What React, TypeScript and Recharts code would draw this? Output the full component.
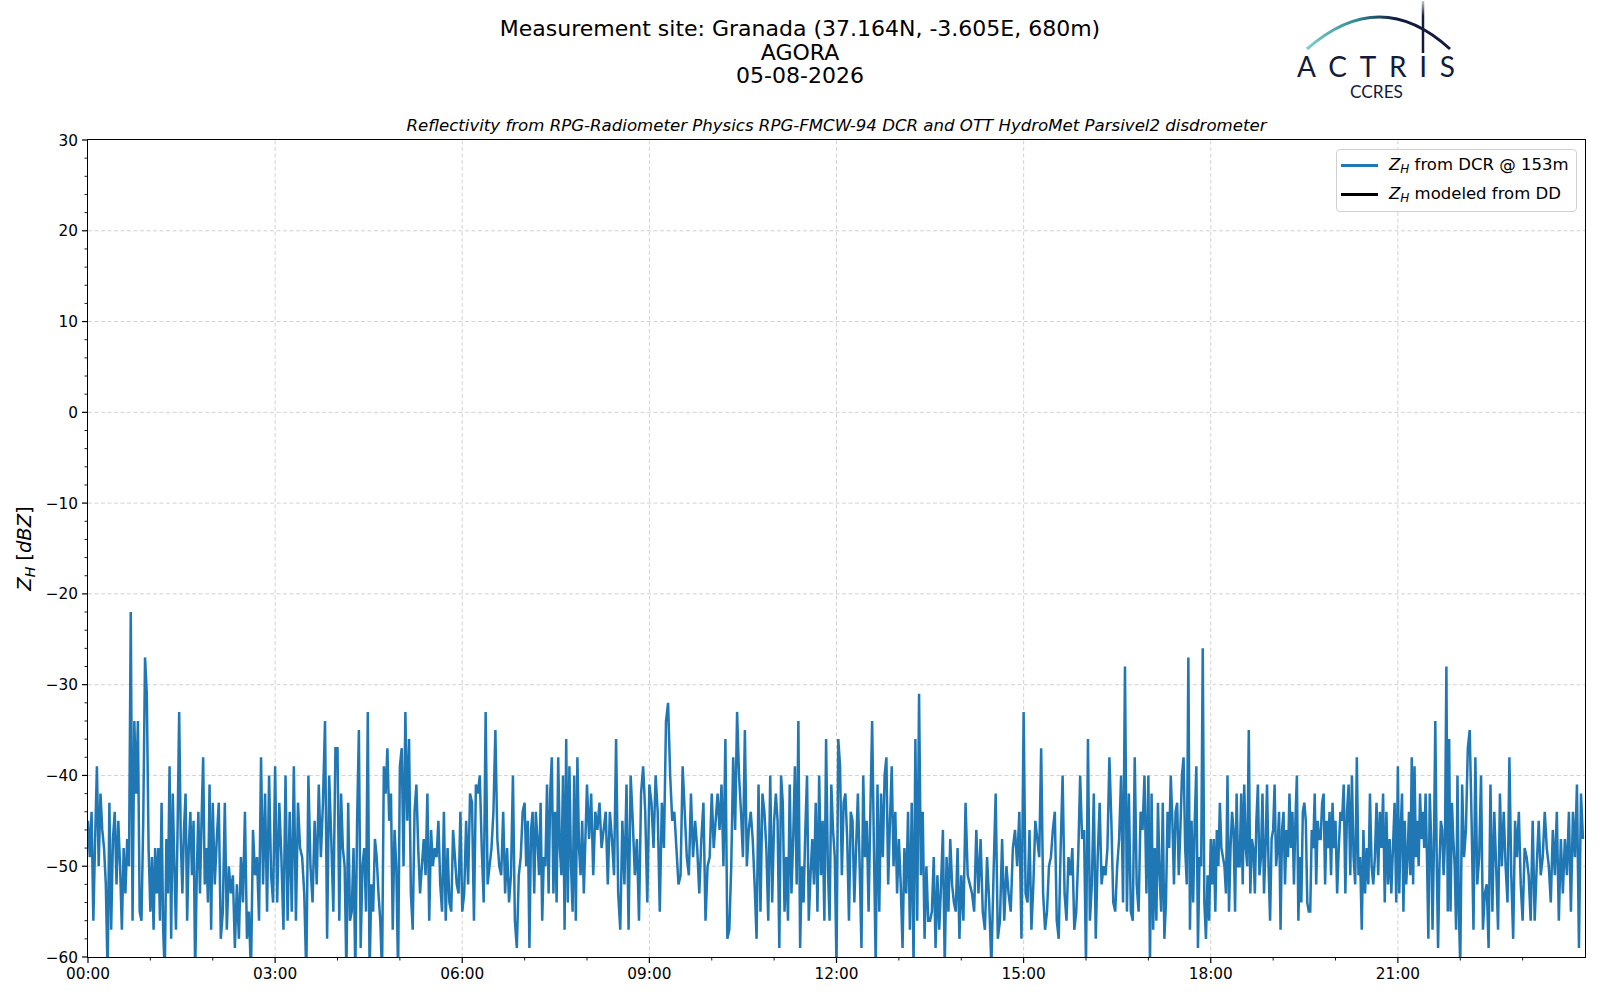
import React from "react";
import { Legend, Line, LineChart, ReferenceLine, XAxis, YAxis } from "recharts";

// Z_H from the DCR at 153 m, one list per hour of the day (dBZ)
const h00 = [-45, -49, -44, -56, -47, -39, -50, -42, -46, -48, -52, -62, -43, -57, -47, -44, -52, -45, -50, -57, -48, -53, -47, -50, -22, -56, -34, -42, -34, -55, -56, -45, -27, -31, -48];
const h01 = [-55, -49, -57, -48, -53, -48, -56, -43, -57, -62, -47, -53, -39, -58, -42, -50, -57, -46, -33, -47, -53, -46, -42, -56, -48, -44, -51, -45, -62, -51, -44, -53, -45, -38, -52, -48, -54, -41, -57];
const h02 = [-43, -52, -47, -43, -58, -55, -43, -57, -50, -53, -51, -59, -52, -58, -49, -54, -44, -58, -55, -62, -46, -51, -49, -56, -38, -52, -42, -55, -40, -51, -54];
const h03 = [-39, -54, -43, -49, -57, -40, -56, -44, -55, -39, -56, -43, -48, -49, -53, -62, -40, -50, -54, -45, -52, -41, -49, -43, -34, -58, -40, -47, -55, -37];
const h04 = [-37, -56, -42, -48, -50, -62, -43, -56, -55, -48, -62, -45, -35, -59, -50, -48, -55, -33, -62, -52, -55, -47, -49, -53, -56, -62, -39, -42, -37, -45, -42, -57, -46, -50, -62];
const h05 = [-39, -37, -50, -33, -45, -36, -53, -57, -44, -41, -48, -53, -50, -47, -51, -42, -56, -46, -50, -48, -49, -45, -52, -55, -44, -56, -48, -54, -55, -46, -49, -52, -53, -44];
const h06 = [-55, -53, -45, -52, -42, -43, -56, -41, -42, -40, -48, -54, -33, -52, -50, -48, -44, -35, -47, -50, -51, -44, -53, -48, -54, -51, -40, -56, -59, -51, -49, -44];
const h07 = [-43, -50, -45, -59, -46, -44, -53, -44, -47, -51, -43, -56, -49, -50, -41, -53, -42, -38, -53, -44, -54, -38, -48, -51, -40, -57, -36, -54, -39, -50, -55, -40, -56, -38, -48, -51, -45, -53, -47];
const h08 = [-41, -47, -42, -51, -44, -46, -43, -48, -46, -44, -52, -44, -47, -51, -36, -53, -57, -45, -52, -41, -57, -40, -45, -51, -47, -56, -42, -39, -44, -54];
const h09 = [-41, -43, -48, -40, -44, -55, -43, -48, -34, -32, -40, -45, -44, -48, -52, -51, -39, -44, -49, -51, -42, -49, -45, -48, -53, -47, -43, -56, -50, -49];
const h10 = [-42, -48, -45, -42, -46, -41, -50, -36, -58, -57, -50, -38, -46, -33, -40, -44, -49, -35, -50, -46, -44, -47, -52, -58, -41, -55, -42, -44, -48, -56, -40, -54];
const h11 = [-45, -42, -45, -59, -40, -43, -55, -49, -56, -41, -53, -47, -39, -52, -34, -59, -50, -54, -46, -40, -56, -51, -47, -52, -43, -55, -40, -51, -45, -56, -36, -50, -56, -41, -46, -49];
const h12 = [-61, -36, -39, -51, -43, -42, -47, -56, -44, -45, -54, -48, -42, -50, -59, -40, -49, -45, -55, -44, -34, -48, -61, -41, -55, -42, -49, -40, -38, -52, -45, -39, -50, -44, -53];
const h13 = [-47, -52, -59, -48, -53, -44, -57, -43, -61, -36, -56, -31, -51, -44, -58, -50, -56, -56, -55, -49, -59, -51, -57, -52, -46, -61, -49, -55, -47, -52, -54, -55, -48, -58];
const h14 = [-51, -56, -43, -51, -52, -53, -55, -46, -53, -47, -55, -57, -49, -54, -61, -51, -42, -58, -56, -47, -56, -50, -53, -55, -48, -46, -50, -44, -58];
const h15 = [-33, -53, -54, -46, -57, -52, -45, -47, -49, -37, -53, -57, -55, -50, -49, -46, -44, -56, -58, -48, -40, -53, -56, -49, -51, -48, -57, -55, -49, -40, -47, -46];
const h16 = [-61, -36, -56, -52, -42, -58, -49, -43, -52, -50, -51, -48, -38, -45, -54, -55, -50, -47, -40, -54, -28, -55, -42, -55, -56, -38, -52, -55, -44, -46, -40, -53];
const h17 = [-40, -61, -42, -57, -48, -56, -43, -51, -55, -43, -58, -54, -44, -48, -40, -45, -52, -44, -43, -51, -46, -40, -38, -48, -52, -27, -57, -45, -54, -45, -39, -59, -49, -50, -26, -54, -58, -51, -56];
const h18 = [-47, -52, -47, -55, -46, -50, -43, -48, -49, -50, -53, -40, -55, -48, -44, -46, -55, -42, -50, -50, -42, -52, -41, -48, -50, -35, -53, -47, -48, -53, -45, -41, -51, -49, -42, -53, -48, -41, -50, -56, -47];
const h19 = [-46, -41, -50, -48, -44, -57, -46, -44, -52, -46, -49, -42, -48, -44, -52, -45, -40, -56, -49, -54, -44, -43, -45, -54, -55, -55, -46, -48, -42, -52, -45, -47, -47, -43, -42, -52, -45, -48, -44, -51, -43, -48];
const h20 = [-45, -53, -48, -44, -45, -41, -53, -44, -41, -51, -40, -49, -52, -38, -51, -49, -57, -46, -53, -48, -52, -42, -50, -52, -49, -43, -51, -44, -48, -42, -54, -44, -52, -47, -53, -48, -43, -54];
const h21 = [-39, -53, -46, -42, -55, -45, -52, -49, -44, -51, -38, -52, -39, -49, -45, -50, -42, -47, -44, -48, -42, -49, -58, -42, -47, -57, -48, -34, -49, -59, -50, -45, -46, -51, -47, -28, -55, -36, -55, -43, -47, -50, -57, -40, -55];
const h22 = [-61, -41, -49, -46, -37, -35, -45, -57, -38, -52, -49, -40, -57, -53, -52, -59, -41, -55, -44, -50, -57, -42, -50, -44, -50, -54, -38, -51, -58, -45, -49, -44, -52];
const h23 = [-56, -48, -49, -51, -56, -45, -56, -50, -45, -51, -49, -44, -48, -50, -54, -46, -51, -44, -56, -47, -53, -47, -51, -44, -55, -44, -49, -41, -59, -42, -47];

const hours = [h00, h01, h02, h03, h04, h05, h06, h07, h08, h09, h10, h11, h12, h13, h14, h15, h16, h17, h18, h19, h20, h21, h22, h23];

const yMajor = [-60, -50, -40, -30, -20, -10, 0, 10, 20, 30];
const xMajor = [0, 3, 6, 9, 12, 15, 18, 21];

const PLOT = { left: 88, top: 140, right: 1585, bottom: 957 };
const FONT = "'DejaVu Sans', sans-serif";
const BLUE = "#1f77b4";

// samples spread evenly inside each hour; the DD series has no data that day
const data = hours.flatMap((vals, h) =>
  vals.map((v, i) => ({ t: h + i / vals.length, zh: v, dd: null as number | null })),
);

const yTicks = yMajor.flatMap((v) => (v < 30 ? [v, v + 2, v + 4, v + 6, v + 8] : [v]));
const xTicks = Array.from({ length: 24 }, (_, i) => i);

const fmtNum = (v: number) => (v < 0 ? `\u2212${Math.abs(v)}` : `${v}`);
const fmtHour = (h: number) => `${String(h).padStart(2, "0")}:00`;

function YTick({ y, payload }: any) {
  const v = payload.value;
  const major = v % 10 === 0;
  return (
    <g>
      <line x1={PLOT.left} x2={PLOT.left - (major ? 6 : 3.5)} y1={y} y2={y} stroke="#000" strokeWidth={major ? 1.2 : 0.9} />
      {major ? (
        <text x={PLOT.left - 10} y={y} dy="0.36em" textAnchor="end" fontSize={15.3} fontFamily={FONT} fill="#000">
          {fmtNum(v)}
        </text>
      ) : null}
    </g>
  );
}

function XTick({ x, payload }: any) {
  const v = payload.value;
  const major = v % 3 === 0;
  return (
    <g>
      <line x1={x} x2={x} y1={PLOT.bottom} y2={PLOT.bottom + (major ? 6 : 3.5)} stroke="#000" strokeWidth={major ? 1.2 : 0.9} />
      {major ? (
        <text x={x} y={PLOT.bottom + 10} dy="0.76em" textAnchor="middle" fontSize={15.3} fontFamily={FONT} fill="#000">
          {fmtHour(v)}
        </text>
      ) : null}
    </g>
  );
}

function YLabel() {
  const cy = (PLOT.top + PLOT.bottom) / 2;
  return (
    <text x={24} y={cy} transform={`rotate(-90 24 ${cy})`} textAnchor="middle" dy="0.35em" fontSize={19.5} fontFamily={FONT} fill="#000">
      <tspan fontStyle="italic">Z</tspan>
      <tspan fontStyle="italic" fontSize={14} dy={4}>H</tspan>
      <tspan dy={-4}> [</tspan>
      <tspan fontStyle="italic">dBZ</tspan>
      <tspan>]</tspan>
    </text>
  );
}

function ZH() {
  return (
    <>
      <i>Z</i>
      <sub style={{ fontSize: 12, fontStyle: "italic", verticalAlign: "-3px" }}>H</sub>
    </>
  );
}

const legendOrder = ["zh", "dd"];

function LegendBox({ payload }: any) {
  const labels: Record<string, React.ReactNode> = {
    zh: <><ZH /> from DCR @ 153m</>,
    dd: <><ZH /> modeled from DD</>,
  };
  const items = [...(payload ?? [])].sort(
    (a: any, b: any) => legendOrder.indexOf(a.dataKey) - legendOrder.indexOf(b.dataKey),
  );
  return (
    <div
      style={{
        width: 241,
        height: 63,
        boxSizing: "border-box",
        border: "1px solid #d0d0d0",
        borderRadius: 4,
        background: "rgba(255,255,255,0.8)",
        fontFamily: FONT,
        fontSize: 16.5,
        color: "#000",
        padding: "1px 0 0 4px",
      }}
    >
      {items.map((p: any) => (
        <div key={p.dataKey} style={{ display: "flex", alignItems: "center", height: 29 }}>
          <span style={{ display: "inline-block", width: 37, height: 2.5, background: p.color, marginRight: 11 }} />
          <span style={{ whiteSpace: "nowrap" }}>{labels[p.dataKey]}</span>
        </div>
      ))}
    </div>
  );
}

function Logo() {
  return (
    <svg width={200} height={110} viewBox="1290 0 200 110" style={{ position: "absolute", left: 1290, top: 0 }}>
      <defs>
        <linearGradient id="arcGrad" x1="1307" x2="1450" y1="0" y2="0" gradientUnits="userSpaceOnUse">
          <stop offset="0" stopColor="#7fd0c8" />
          <stop offset="0.35" stopColor="#2f8a93" />
          <stop offset="0.62" stopColor="#141a3c" />
          <stop offset="1" stopColor="#141a3c" />
        </linearGradient>
        <linearGradient id="mastGrad" x1="0" x2="0" y1="0" y2="54" gradientUnits="userSpaceOnUse">
          <stop offset="0" stopColor="#141a3c" stopOpacity="0.2" />
          <stop offset="0.3" stopColor="#141a3c" />
        </linearGradient>
      </defs>
      <path d="M 1307 49 Q 1380 -15 1450 49" fill="none" stroke="url(#arcGrad)" strokeWidth={3} />
      <line x1={1423} x2={1423} y1={1} y2={53} stroke="url(#mastGrad)" strokeWidth={2.5} />
      <text x={1297} y={77} textLength={158} lengthAdjust="spacing" fontSize={28} fontFamily="Lato, 'Open Sans', sans-serif" fill="#141a3c">
        ACTRIS
      </text>
      <text x={1350} y={98} textLength={53} lengthAdjust="spacingAndGlyphs" fontSize={17} fontFamily="Lato, 'Open Sans', sans-serif" fill="#141a3c">
        CCRES
      </text>
    </svg>
  );
}

export default function App() {
  const plotW = PLOT.right - PLOT.left;
  const plotH = PLOT.bottom - PLOT.top;
  const plotCx = (PLOT.left + PLOT.right) / 2;
  return (
    <div style={{ position: "absolute", left: 0, top: 0, width: 1600, height: 1000, background: "#fff", fontFamily: FONT }}>
      <div style={{ position: "absolute", left: 0, width: 1600, top: 17, textAlign: "center", fontSize: 22, lineHeight: "23.5px", color: "#000" }}>
        <div>Measurement site: Granada (37.164N, -3.605E, 680m)</div>
        <div>AGORA</div>
        <div>05-08-2026</div>
      </div>
      <div
        style={{
          position: "absolute",
          left: plotCx - 500,
          width: 1000,
          top: 116,
          textAlign: "center",
          fontSize: 16.6,
          fontStyle: "italic",
          color: "#000",
        }}
      >
        Reflectivity from RPG-Radiometer Physics RPG-FMCW-94 DCR and OTT HydroMet Parsivel2 disdrometer
      </div>
      <Logo />

      <LineChart
        width={1600}
        height={1000}
        data={data}
        margin={{ top: PLOT.top, right: 1600 - PLOT.right, bottom: 1000 - PLOT.bottom - 30, left: PLOT.left - 60 }}
        style={{ position: "absolute", left: 0, top: 0 }}
      >
        <XAxis
          dataKey="t"
          type="number"
          domain={[0, 24]}
          ticks={xTicks}
          interval={0}
          tick={XTick}
          tickLine={false}
          axisLine={false}
          height={30}
          allowDataOverflow
        />
        <YAxis
          type="number"
          domain={[-60, 30]}
          ticks={yTicks}
          interval={0}
          tick={YTick}
          tickLine={false}
          axisLine={false}
          width={60}
          allowDataOverflow
          label={<YLabel />}
        />
        {yMajor.slice(1, -1).map((v) => (
          <ReferenceLine key={`gy${v}`} y={v} stroke="#d3d3d3" strokeDasharray="4 2.5" strokeWidth={1} />
        ))}
        {xMajor.slice(1).map((v) => (
          <ReferenceLine key={`gx${v}`} x={v} stroke="#d3d3d3" strokeDasharray="4 2.5" strokeWidth={1} />
        ))}
        <Line
          type="linear"
          dataKey="zh"
          name="zh"
          stroke={BLUE}
          strokeWidth={2.5}
          dot={false}
          isAnimationActive={false}
        />
        <Line type="linear" dataKey="dd" name="dd" stroke="#000" strokeWidth={2.5} dot={false} isAnimationActive={false} />
        <Legend
          layout="vertical"
          align="center"
          verticalAlign="middle"
          content={<LegendBox />}
          wrapperStyle={{ position: "absolute", left: 1336, top: 149, width: 241, height: 63 }}
        />
      </LineChart>

      <div
        style={{
          position: "absolute",
          left: PLOT.left - 0.6,
          top: PLOT.top - 0.6,
          width: plotW + 1.2,
          height: plotH + 1.2,
          boxSizing: "border-box",
          border: "1.3px solid #000",
          pointerEvents: "none",
        }}
      />
    </div>
  );
}
